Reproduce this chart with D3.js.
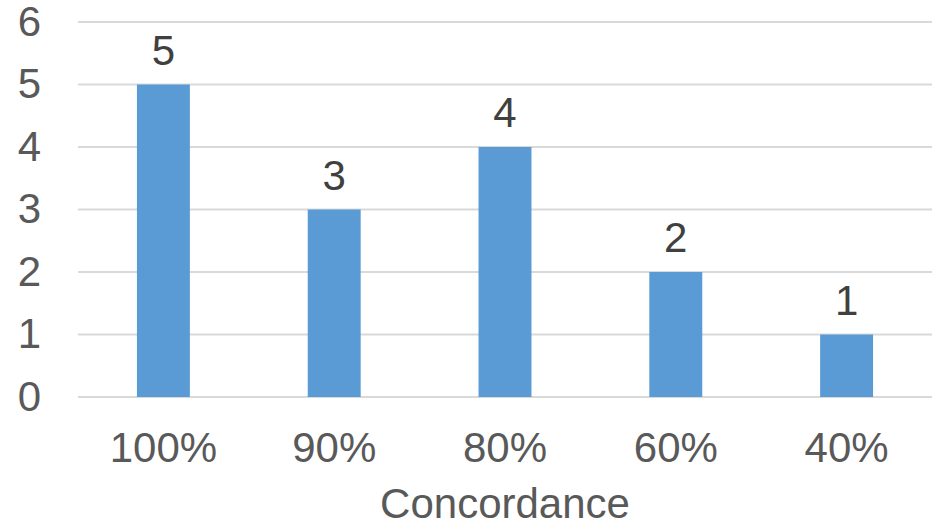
<!DOCTYPE html>
<html>
<head>
<meta charset="utf-8">
<script src="https://cdn.jsdelivr.net/npm/d3@7"></script>
<style>
  html, body { margin: 0; padding: 0; background: #fff; }
  svg { display: block; font-family: "Liberation Sans", Arial, sans-serif; }
</style>
</head>
<body>
<svg id="chart" width="934" height="524"></svg>
<script>
// Number of cases by concordance level
const categories = ["100%", "90%", "80%", "60%", "40%"];
const counts = [5, 3, 4, 2, 1];
const yTicks = [0, 1, 2, 3, 4, 5, 6];
const xTitle = "Concordance";

const svg = d3.select("#chart");
const margin = { left: 78, right: 2, top: 22, bottom: 127 };
const W = 934, H = 524;
const FS = 42;

const x = d3.scaleBand()
  .domain(categories)
  .range([margin.left, W - margin.right])
  .paddingInner(0.69)
  .paddingOuter(0.345);

const y = d3.scaleLinear()
  .domain([0, 6])
  .range([H - margin.bottom, margin.top]);

// Horizontal gridlines
svg.append("g")
  .selectAll("line")
  .data(yTicks)
  .join("line")
  .attr("x1", margin.left)
  .attr("x2", W - margin.right)
  .attr("y1", d => y(d))
  .attr("y2", d => y(d))
  .attr("stroke", "#d9d9d9")
  .attr("stroke-width", 2);

// Y axis labels
const yAxis = d3.axisLeft(y)
  .tickValues(yTicks)
  .tickFormat(d3.format("d"))
  .tickSize(0)
  .tickPadding(0);
const gy = svg.append("g")
  .attr("transform", `translate(41,0)`)
  .call(yAxis);
gy.select(".domain").remove();
gy.selectAll("text")
  .attr("font-size", FS)
  .attr("fill", "#595959")
  .attr("font-family", "Liberation Sans, Arial, sans-serif");

// Bars
svg.append("g")
  .selectAll("rect")
  .data(categories)
  .join("rect")
  .attr("x", d => x(d))
  .attr("width", x.bandwidth())
  .attr("y", (d, i) => y(counts[i]))
  .attr("height", (d, i) => y(0) - y(counts[i]))
  .attr("fill", "#5b9bd5");

// Value labels
svg.append("g")
  .selectAll("text")
  .data(categories)
  .join("text")
  .attr("x", d => x(d) + x.bandwidth() / 2)
  .attr("y", (d, i) => y(counts[i]) - 20)
  .attr("text-anchor", "middle")
  .attr("font-size", FS)
  .attr("fill", "#404040")
  .text((d, i) => counts[i]);

// X axis labels
const xAxis = d3.axisBottom(x).tickSize(0).tickPadding(0);
const gx = svg.append("g")
  .attr("transform", `translate(0,${y(0)})`)
  .call(xAxis);
gx.select(".domain").remove();
gx.selectAll("text")
  .attr("dy", null)
  .attr("y", 65)
  .attr("font-size", FS)
  .attr("fill", "#595959")
  .attr("font-family", "Liberation Sans, Arial, sans-serif");

// X axis title
svg.append("text")
  .attr("x", (margin.left + W - margin.right) / 2)
  .attr("y", 518)
  .attr("text-anchor", "middle")
  .attr("font-size", FS)
  .attr("fill", "#595959")
  .text(xTitle);
</script>
</body>
</html>
